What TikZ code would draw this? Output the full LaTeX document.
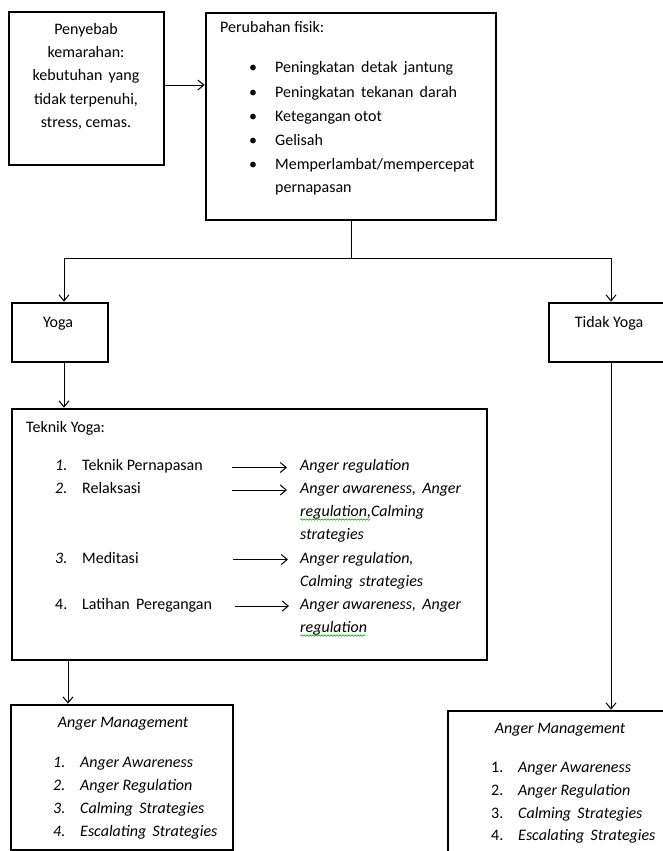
\documentclass[tikz,border=0pt]{standalone}
\usepackage{fontspec}
\setmainfont{Carlito}
\usetikzlibrary{arrows.meta,decorations.pathmorphing}
\begin{document}
\begin{tikzpicture}[x=1pt,y=-1pt,
  box/.style={draw, line width=2.8pt, inner sep=0pt},
  txt/.style={inner sep=0pt, anchor=base west, font=\fontsize{16}{23}\selectfont},
  ctxt/.style={inner sep=0pt, anchor=base, font=\fontsize{16}{23}\selectfont},
  itxt/.style={txt, font=\fontsize{16}{23}\selectfont\itshape},
  conn/.style={line width=1pt, -{Straight Barb[length=6pt,width=10pt]}},
  plain/.style={line width=1pt},
  squig/.style={draw=green!60!black, line width=0.5pt, decorate, decoration={snake, amplitude=0.8pt, segment length=3pt}}
]
\useasboundingbox[fill=white] (0,0) rectangle (663,851);

% ---- boxes
\node[box, minimum width=155pt, minimum height=153pt] (b1) at (86.5,88.5) {};
\node[box, minimum width=290pt, minimum height=207pt] (b2) at (351,116.5) {};
\node[box, minimum width=96pt, minimum height=59pt] (yoga) at (60,332.5) {};
\node[box, minimum width=123pt, minimum height=59pt] (tidak) at (610.5,332.5) {};
\node[box, minimum width=475pt, minimum height=251pt] (teknik) at (249.5,534.5) {};
\node[box, minimum width=222pt, minimum height=145pt] (am1) at (122,777.5) {};
\node[box, minimum width=224pt, minimum height=160pt] (am2) at (560,791) {};

% ---- box 1 text
\node[ctxt] (p1) at (86,35) {Penyebab};
\node[ctxt] (p2) at (86,58) {kemarahan:};
\node[ctxt] (p3) at (86,81) {kebutuhan\, yang};
\node[ctxt] (p4) at (86,104) {tidak terpenuhi,};
\node[ctxt] (p5) at (86,127) {stress, cemas.};

% ---- box 2 text
\node[txt] (f0) at (220,33) {Perubahan fisik:};
\foreach \i/\yy/\t in {1/73/{Peningkatan\, detak\, jantung},2/97/{Peningkatan\, tekanan\, darah},3/121/{Ketegangan otot},4/145/{Gelisah},5/169/{Memperlambat/mempercepat}}{
  \node[txt] (bu\i) at (249,\yy) {\textbullet};
  \node[txt] (f\i) at (275,\yy) {\t};
}
\node[txt] (f6) at (275,192) {pernapasan};

% ---- yoga / tidak yoga
\node[ctxt] (ty) at (58,327) {Yoga};
\node[ctxt] (tt) at (609,327) {Tidak Yoga};

% ---- teknik yoga
\node[txt] (k0) at (26,432) {Teknik Yoga:};
\node[itxt] (n1) at (55,470) {1.};
\node[txt] (k1) at (82,470) {Teknik Pernapasan};
\node[itxt] (n2) at (55,493) {2.};
\node[txt] (k2) at (82,493) {Relaksasi};
\node[itxt] (n3) at (55,563) {3.};
\node[txt] (k3) at (82,563) {Meditasi};
\node[txt] (n4) at (55,609) {4.};
\node[txt] (k4) at (82,609) {Latihan\, Peregangan};

\node[itxt] (r1) at (300,470) {Anger regulation};
\node[itxt] (r2a) at (300,493) {Anger awareness,\, Anger};
\node[itxt] (r2b) at (300,516) {regulation,Calming};
\node[itxt] (r2c) at (300,539) {strategies};
\node[itxt] (r3a) at (300,563) {Anger regulation,};
\node[itxt] (r3b) at (300,586) {Calming\, strategies};
\node[itxt] (r4a) at (300,609) {Anger awareness,\, Anger};
\node[itxt] (r4b) at (300,632) {regulation};

\coordinate (a1s) at (232,467.5); \coordinate (a1e) at (287,467.5);
\coordinate (a2s) at (232,490); \coordinate (a2e) at (287,490);
\coordinate (a3s) at (233,559.5); \coordinate (a3e) at (288,559.5);
\coordinate (a4s) at (235,606); \coordinate (a4e) at (289,606);
\foreach \i in {1,2,3,4}{\draw[conn] (a\i s) -- (a\i e);}

\coordinate (sq1s) at (300,519.5); \coordinate (sq1e) at (370,519.5);
\coordinate (sq2s) at (300,635.5); \coordinate (sq2e) at (365,635.5);
\draw[squig] (sq1s) -- (sq1e);
\draw[squig] (sq2s) -- (sq2e);

% ---- anger management left
\node[ctxt, font=\fontsize{16}{23}\selectfont\itshape] (m0) at (123,727) {Anger Management};
\foreach \i/\yy/\t in {1/767/{Anger Awareness},2/790/{Anger Regulation},3/813/{Calming\, Strategies},4/836/{Escalating\, Strategies}}{
  \node[itxt] (mn\i) at (53,\yy) {\i.};
  \node[itxt] (m\i) at (80,\yy) {\t};
}

% ---- anger management right
\node[ctxt, font=\fontsize{16}{23}\selectfont\itshape] (q0) at (560,733) {Anger Management};
\foreach \i/\yy/\t in {1/772/{Anger Awareness},2/795/{Anger Regulation},3/818/{Calming\, Strategies},4/840/{Escalating\, Strategies}}{
  \node[txt] (qn\i) at (491,\yy) {\i.};
  \node[itxt] (q\i) at (518,\yy) {\t};
}

% ---- connectors
\draw[conn] (b1.east |- 0,85) -- (b2.west |- 0,85);
\coordinate (split) at (351,258);
\coordinate (L) at (64,258);
\coordinate (R) at (611,258);
\draw[plain] (b2.south) -- (split);
\draw[plain] (L) -- (R);
\draw[conn] (L) -- (L |- yoga.north);
\draw[conn] (R) -- (R |- tidak.north);
\draw[conn] (yoga.south -| L) -- (L |- teknik.north);
\coordinate (T) at (68,660);
\draw[conn] (teknik.south -| T) -- (T |- am1.north);
\draw[conn] (tidak.south -| R) -- (R |- am2.north);
\end{tikzpicture}
\end{document}
